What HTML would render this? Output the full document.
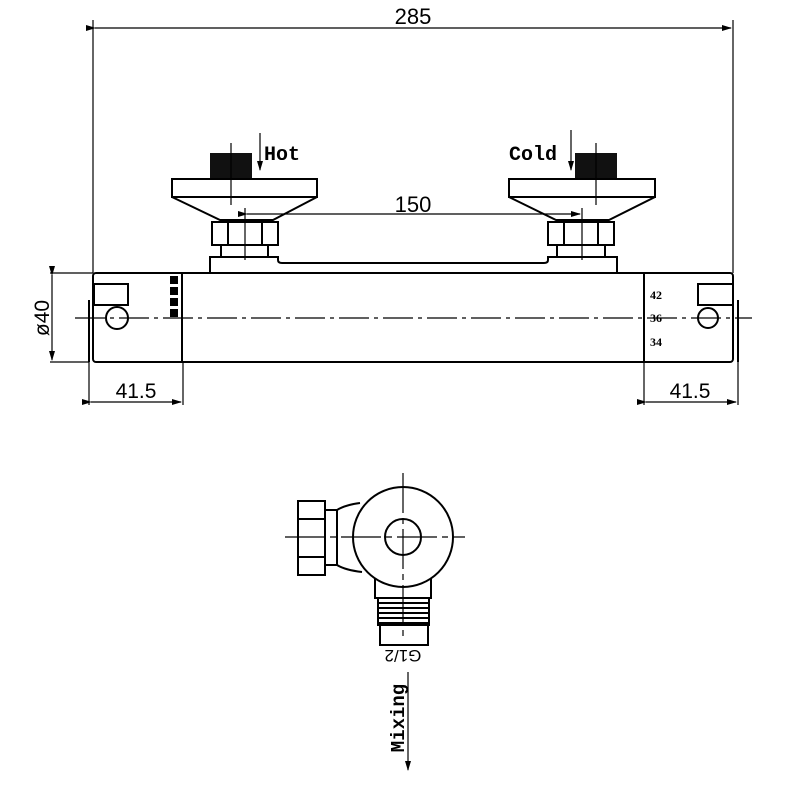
<!DOCTYPE html>
<html><head><style>html,body{margin:0;padding:0;background:#fff}</style></head><body>
<svg width="800" height="800" viewBox="0 0 800 800" xmlns="http://www.w3.org/2000/svg" font-family="Liberation Sans, sans-serif">
<defs><marker id="a" markerWidth="10" markerHeight="6" refX="9" refY="3" orient="auto" markerUnits="userSpaceOnUse"><path d="M0,0 L10,3 L0,6" fill="#000"/></marker></defs>
<g stroke="#000" fill="none" stroke-width="1.2">
<line x1="93" y1="20" x2="93" y2="273"/><line x1="733" y1="20" x2="733" y2="273"/>
<line x1="95" y1="28" x2="731" y2="28" marker-start="url(#a)" marker-end="url(#a)"/>
</g>
<text x="413" y="24" font-size="22" text-anchor="middle">285</text>
<g stroke="#000" fill="none" stroke-width="2">
<rect x="93" y="273" width="640" height="89" rx="3"/>
<line x1="89" y1="300" x2="89" y2="362"/><line x1="738" y1="300" x2="738" y2="362"/>
<line x1="182" y1="273" x2="182" y2="362"/><line x1="644" y1="273" x2="644" y2="362"/>
<rect x="94" y="284" width="34" height="21"/><circle cx="117" cy="318" r="11"/>
<rect x="698" y="284" width="35" height="21"/><circle cx="708" cy="318" r="10"/>
<path d="M210,273 V257 H278 V260 Q278,263 282,263 H544 Q548,263 548,260 V257 H617 V273"/>
<rect x="172" y="179" width="145" height="18"/>
<path d="M172,197 L220,220 H273 L317,197"/>
<rect x="212" y="222" width="66" height="23"/><line x1="228" y1="222" x2="228" y2="245"/><line x1="262" y1="222" x2="262" y2="245"/>
<line x1="221" y1="245" x2="221" y2="257"/><line x1="268" y1="245" x2="268" y2="257"/>
<rect x="509" y="179" width="146" height="18"/>
<path d="M509,197 L556,220 H609 L655,197"/>
<rect x="548" y="222" width="66" height="23"/><line x1="564" y1="222" x2="564" y2="245"/><line x1="598" y1="222" x2="598" y2="245"/>
<line x1="557" y1="245" x2="557" y2="257"/><line x1="605" y1="245" x2="605" y2="257"/>
</g>
<rect x="210" y="153" width="42" height="25" fill="#111"/>
<rect x="575" y="153" width="42" height="25" fill="#111"/>
<g fill="#000"><rect x="170" y="276" width="8" height="8"/><rect x="170" y="287" width="8" height="8"/><rect x="170" y="298" width="8" height="8"/><rect x="170" y="309" width="8" height="8"/></g>
<g stroke="#000" fill="none" stroke-width="1.2">
<line x1="231" y1="143" x2="231" y2="205"/><line x1="596" y1="143" x2="596" y2="205"/>
<line x1="260" y1="133" x2="260" y2="170" marker-end="url(#a)"/>
<line x1="571" y1="130" x2="571" y2="170" marker-end="url(#a)"/>
<line x1="245" y1="208" x2="245" y2="260"/><line x1="582" y1="208" x2="582" y2="260"/>
<line x1="247" y1="214" x2="580" y2="214" marker-start="url(#a)" marker-end="url(#a)"/>
<line x1="75" y1="318" x2="752" y2="318" stroke-dasharray="30,5,4,5"/>
<line x1="50" y1="273" x2="93" y2="273"/><line x1="50" y1="362" x2="89" y2="362"/>
<line x1="52" y1="275" x2="52" y2="360" marker-start="url(#a)" marker-end="url(#a)"/>
<line x1="89" y1="362" x2="89" y2="405"/><line x1="183" y1="362" x2="183" y2="405"/>
<line x1="91" y1="402" x2="181" y2="402" marker-start="url(#a)" marker-end="url(#a)"/>
<line x1="644" y1="362" x2="644" y2="405"/><line x1="738" y1="362" x2="738" y2="405"/>
<line x1="646" y1="402" x2="736" y2="402" marker-start="url(#a)" marker-end="url(#a)"/>
</g>
<text x="413" y="212" font-size="22" text-anchor="middle">150</text>
<text x="136" y="398" font-size="21" text-anchor="middle">41.5</text>
<text x="690" y="398" font-size="21" text-anchor="middle">41.5</text>
<text transform="translate(49,318) rotate(-90)" font-size="21" text-anchor="middle">ø40</text>
<g font-family="Liberation Mono, monospace" font-weight="bold">
<text x="264" y="160" font-size="20">Hot</text>
<text x="509" y="160" font-size="20">Cold</text>
</g>
<g font-family="Liberation Serif, serif" font-weight="bold">
<text x="650" y="299" font-size="12">42</text>
<text x="650" y="322" font-size="12">36</text>
<text x="650" y="346" font-size="12">34</text>
</g>
<g stroke="#000" fill="none" stroke-width="2">
<circle cx="403" cy="537" r="50"/><circle cx="403" cy="537" r="18"/>
<rect x="298" y="501" width="27" height="74"/><line x1="298" y1="519" x2="325" y2="519"/><line x1="298" y1="557" x2="325" y2="557"/>
<path d="M325,510 H337 Q345,505 360,503 M325,565 H337 Q345,570 362,572"/>
<line x1="337" y1="510" x2="337" y2="565"/>
<path d="M375,578 V598 H431 V578"/>
<path d="M378,598 V625 H429 V598"/>
<path d="M380,625 V645 H428 V625"/>
</g>
<g stroke="#000" stroke-width="2">
<line x1="378" y1="603" x2="429" y2="603"/><line x1="378" y1="608" x2="429" y2="608"/><line x1="378" y1="613" x2="429" y2="613"/><line x1="378" y1="618" x2="429" y2="618"/><line x1="378" y1="623" x2="429" y2="623"/>
</g>
<g stroke="#000" stroke-width="1.2">
<line x1="285" y1="537" x2="465" y2="537" stroke-dasharray="40,5,6,5"/>
<line x1="403" y1="473" x2="403" y2="640" stroke-dasharray="40,5,6,5"/>
<line x1="408" y1="672" x2="408" y2="770" marker-end="url(#a)"/>
</g>
<text transform="translate(403,650) rotate(180)" font-size="17" text-anchor="middle">G1/2</text>
<text transform="translate(404,718) rotate(-90)" font-family="Liberation Mono, monospace" font-weight="bold" font-size="19" text-anchor="middle">Mixing</text>
</svg>
</body></html>
